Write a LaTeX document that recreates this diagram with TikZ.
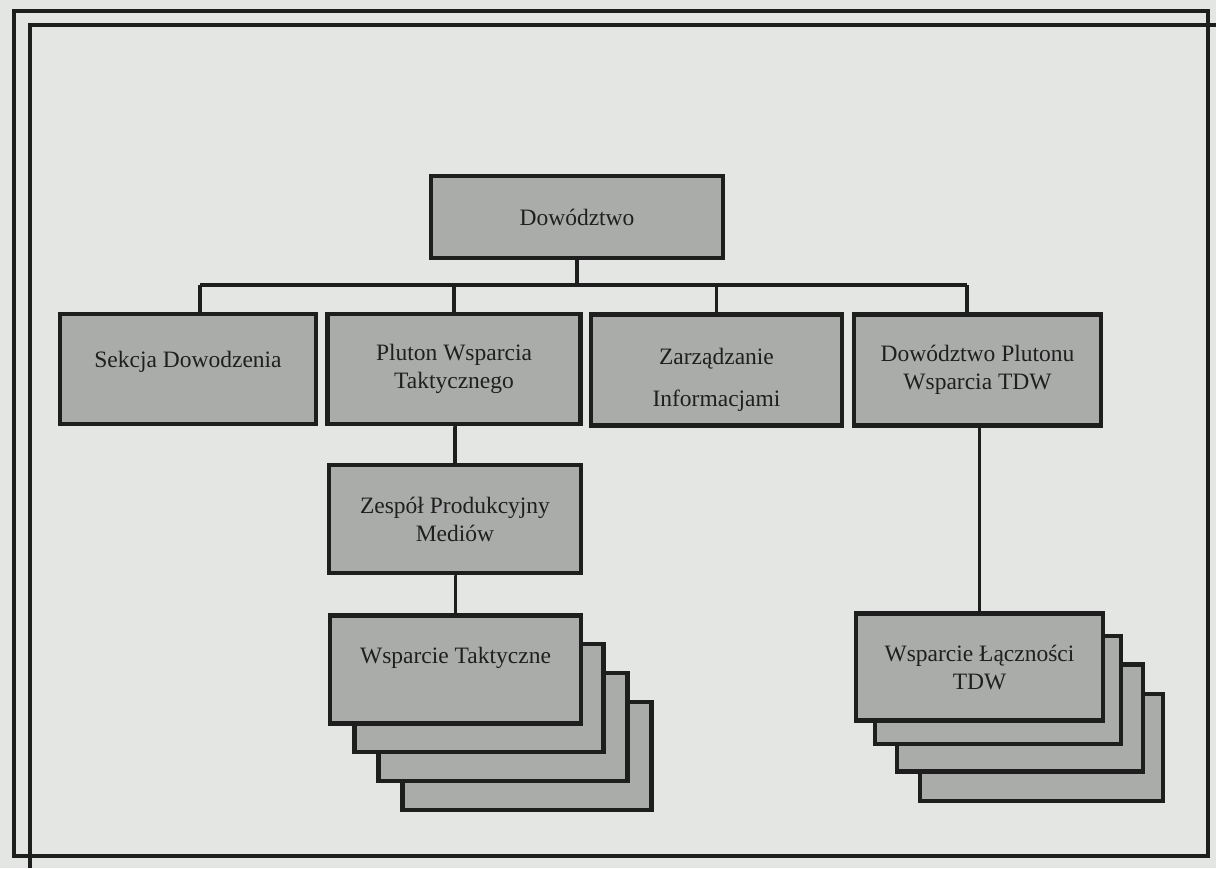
\documentclass[tikz,border=0pt]{standalone}
\usepackage{fontspec}
\setmainfont{Liberation Serif}
\definecolor{paper}{RGB}{228,230,227}
\definecolor{boxgray}{RGB}{170,172,170}
\definecolor{ink}{RGB}{30,30,30}
\begin{document}
\begin{tikzpicture}[x=1pt,y=-1pt,
  box/.style={draw=ink, line width=4.5pt, fill=boxgray, text=black!88,
    align=center, font=\fontsize{23.5}{28}\selectfont, inner sep=0pt},
  conn/.style={draw=ink, line width=3.5pt},
  frame/.style={draw=ink, line width=4pt}]
\fill[paper] (0,0) rectangle (1216,868);
\useasboundingbox (0,0) rectangle (1216,868);
% frames
\draw[frame] (14,11) rectangle (1208,856);
\draw[frame] (1216,25) -- (30,25) -- (30,868);
% connector bar
\coordinate (barL) at (200,285);
\coordinate (barR) at (967,285);
% top box
\node[box, minimum width=292pt, minimum height=82pt] (dow) at (577,217) {Dowództwo};
% second row
\node[box, minimum width=256pt, minimum height=110pt] (sek) at (188,369) {\raisebox{2pt}[0pt][0pt]{Sekcja Dowodzenia}};
\node[box, minimum width=253pt, minimum height=110pt] (plu) at (454,369) {Pluton Wsparcia\\Taktycznego};
\node[box, minimum width=251pt, minimum height=111pt] (zar) at (716.5,370) {\raisebox{6pt}[0pt][0pt]{\begin{tabular}[t]{@{}c@{}}Zarządzanie\\[14pt]Informacjami\end{tabular}}};
\node[box, minimum width=247pt, minimum height=111pt] (dpl) at (977.5,370) {Dowództwo Plutonu\\Wsparcia TDW};
% third row
\node[box, minimum width=252pt, minimum height=108pt] (zes) at (455,519) {Zespół Produkcyjny\\Mediów};
% stacks (left)
\node[box, minimum width=249pt, minimum height=108pt] (wt4) at (527,756) {};
\node[box, minimum width=249pt, minimum height=108pt] (wt3) at (503,727) {};
\node[box, minimum width=249pt, minimum height=108pt] (wt2) at (479,698) {};
\node[box, minimum width=251pt, minimum height=108pt] (wt) at (455.5,669.5) {\raisebox{6.5pt}[0pt][0pt]{Wsparcie Taktyczne}};
% stacks (right)
\node[box, minimum width=243pt, minimum height=107pt] (wl4) at (1041.5,747.5) {};
\node[box, minimum width=246pt, minimum height=107pt] (wl3) at (1020,718) {};
\node[box, minimum width=246pt, minimum height=108pt] (wl2) at (998,690) {};
\node[box, minimum width=247pt, minimum height=107pt] (wl) at (979.5,667) {Wsparcie Łączności\\TDW};
% connectors
\draw[conn] (dow.south) -- (dow.south |- barL);
\draw[conn] (barL) -- (barR);
\draw[conn] (barL) -- (barL |- sek.north);
\draw[conn] (plu.north |- barL) -- (plu.north);
\draw[conn] (zar.north |- barL) -- (zar.north);
\draw[conn] (barR) -- (barR |- dpl.north);
\draw[conn] (plu.south) -- (plu.south -| zes.north) -- (zes.north);
\draw[conn] (zes.south) -- (zes.south -| wt.north) -- (wt.north);
\draw[conn] (dpl.south -| wl.north) -- (wl.north);
\end{tikzpicture}
\end{document}
